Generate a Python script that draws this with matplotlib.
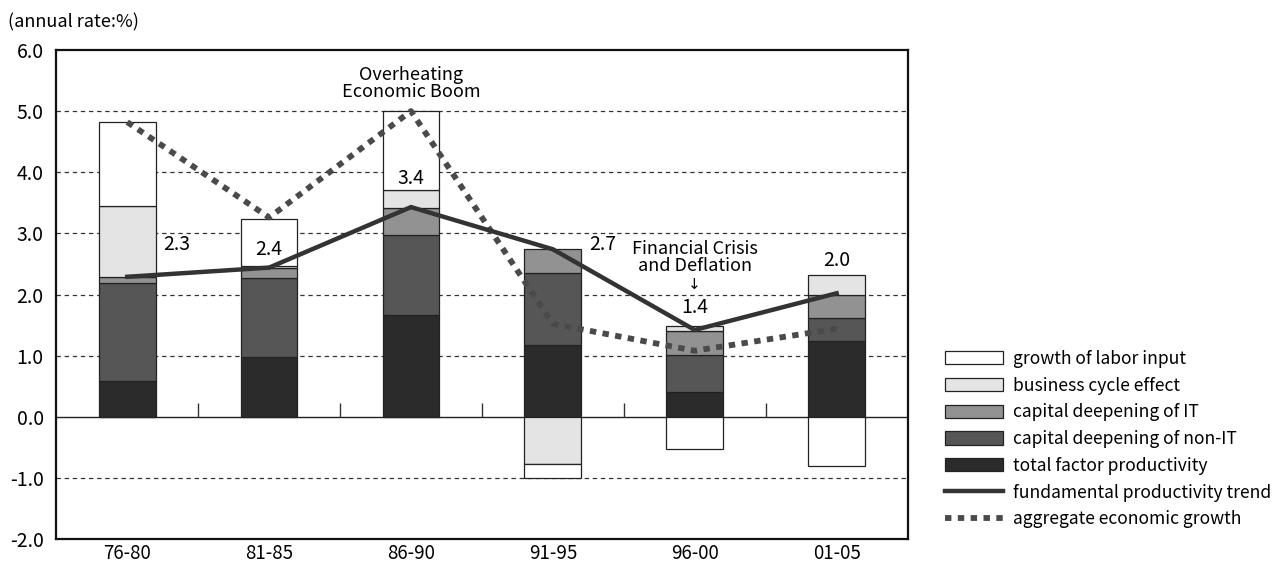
import numpy as np
import matplotlib
matplotlib.use("Agg")
import matplotlib.pyplot as plt
from matplotlib.patches import Patch
from matplotlib.lines import Line2D

plt.rcParams['font.family'] = ['Noto Sans CJK JP', 'DejaVu Sans']

categories = ['76-80', '81-85', '86-90', '91-95', '96-00', '01-05']
tfp = [0.59, 0.97, 1.67, 1.18, 0.41, 1.24]
non_it = [1.60, 1.30, 1.31, 1.18, 0.60, 0.37]
it_cap = [0.10, 0.17, 0.43, 0.39, 0.39, 0.39]
business = [1.15, 0.03, 0.30, -0.78, 0.09, 0.32]
labor = [1.39, 0.77, 1.29, -0.22, -0.53, -0.80]
trend = [2.29, 2.44, 3.43, 2.74, 1.42, 2.02]
growth = [4.82, 3.26, 5.00, 1.52, 1.08, 1.44]

series_names = ['total factor productivity', 'capital deepening of non-IT',
                'capital deepening of IT', 'business cycle effect',
                'growth of labor input']
series_vals = [tfp, non_it, it_cap, business, labor]
series_cols = ['#2b2b2b', '#565656', '#929292', '#e4e4e4', '#ffffff']

fig = plt.figure(figsize=(12.8, 5.68), dpi=100)
ax = fig.add_axes([0.044, 0.051, 0.665, 0.861])

n = len(categories)
x = np.arange(n) + 0.5
width = 0.40

pos_base = np.zeros(n)
neg_base = np.zeros(n)
for vals, col in zip(series_vals, series_cols):
    v = np.array(vals)
    bottoms = np.where(v >= 0, pos_base, neg_base)
    ax.bar(x, v, width, bottom=bottoms, color=col, edgecolor='#222222',
           linewidth=0.9, zorder=2)
    pos_base = pos_base + np.where(v >= 0, v, 0)
    neg_base = neg_base + np.where(v < 0, v, 0)

ax.plot(x, growth, color='#4a4a4a', linewidth=4.2, linestyle=(0, (1.1, 1.1)),
        zorder=3)
ax.plot(x, trend, color='#333333', linewidth=3.2, zorder=4,
        solid_joinstyle='miter')

ax.set_xlim(0, n)
ax.set_ylim(-2.0, 6.0)
ax.set_yticks(np.arange(-2, 6.1, 1.0))
ax.set_yticklabels([f'{t:.1f}' for t in np.arange(-2, 6.1, 1.0)], fontsize=14)
ax.set_xticks(x)
ax.set_xticklabels(categories, fontsize=13.5)
ax.tick_params(axis='x', length=0, pad=3)
ax.tick_params(axis='y', length=0, pad=9)

for yv in np.arange(-1, 6, 1.0):
    if yv != 0:
        ax.axhline(yv, color='#333333', linewidth=0.9, linestyle=(0, (3.5, 3)),
                   zorder=1)
ax.axhline(0, color='#222222', linewidth=1.0, zorder=1)
ax.vlines(np.arange(1, n), 0, 0.23, color='#333333', linewidth=1.0, zorder=1)

for sp in ax.spines.values():
    sp.set_linewidth(1.6)
    sp.set_color('#111111')

# value labels
label_offsets = [(0.35, 0.52), (0.0, 0.30), (0.0, 0.47), (0.35, 0.08),
                 (0.0, 0.37), (0.0, 0.53)]
for xi, tv, (dx, dy) in zip(x, trend, label_offsets):
    ax.text(xi + dx, tv + dy, f'{tv:.1f}', ha='center', va='center',
            fontsize=14, zorder=5)

ax.text(x[2], 5.45, 'Overheating\nEconomic Boom', ha='center', va='center',
        fontsize=13, linespacing=0.95)
ax.text(x[4], 2.61, 'Financial Crisis\nand Deflation', ha='center',
        va='center', fontsize=13, linespacing=0.95)
ax.text(x[4], 2.17, '↓', ha='center', va='center', fontsize=11,
        family=['DejaVu Sans'])

fig.text(0.006, 0.961, '(annual rate:%)', fontsize=13, ha='left', va='center')

handles = [Patch(facecolor=c, edgecolor='#222222', linewidth=0.9)
           for c in series_cols[::-1]]
handles += [Line2D([], [], color='#333333', linewidth=3.2),
            Line2D([], [], color='#4a4a4a', linewidth=4.2,
                   linestyle=(0, (1.1, 1.1)))]
labels = series_names[::-1] + ['fundamental productivity trend',
                               'aggregate economic growth']
fig.legend(handles, labels, loc='center left', bbox_to_anchor=(0.733, 0.227),
           frameon=False, fontsize=12.6, handlelength=3.3, handleheight=0.8,
           labelspacing=0.5, handletextpad=0.55, borderaxespad=0)

fig.savefig('out.png', dpi=100)
